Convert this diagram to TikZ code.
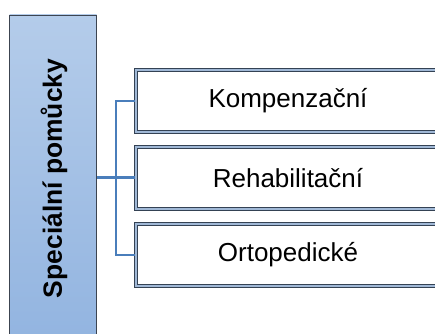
\documentclass[tikz,border=0pt]{standalone}
\usepackage{fontspec}
\setmainfont{Liberation Sans}
\begin{document}
\begin{tikzpicture}[x=0.75pt,y=-0.75pt,
  mainbox/.style={draw={rgb,255:red,60;green,68;blue,80}, line width=0.7pt,
    top color={rgb,255:red,180;green,204;blue,234},
    bottom color={rgb,255:red,146;green,180;blue,224},
    shading angle=0},
  itembox/.style={draw={rgb,255:red,52;green,66;blue,84}, line width=0.75pt,
    double={rgb,255:red,160;green,184;blue,214}, double distance=0.9pt,
    fill=white},
  link/.style={draw={rgb,255:red,74;green,126;blue,187}, line width=1.6pt},
  itemtext/.style={font=\fontsize{19.5pt}{23pt}\selectfont}
]
\useasboundingbox (0,0) rectangle (435,334);
\begin{scope}
\clip (0,0) rectangle (435,334);
% category column on the left
\path[mainbox] (9.5,15) rectangle (96.5,345);
\node[font=\bfseries\fontsize{19.8pt}{23pt}\selectfont, rotate=90] (title) at (54,178.5) {Speciální pomůcky};
\coordinate (root) at (96.5,177.5);
% three item boxes
\path[itembox] (136,70) rectangle (450,132) node[midway] (b1) {};
\path[itembox] (136,147) rectangle (450,209) node[midway] (b2) {};
\path[itembox] (136,224) rectangle (450,286) node[midway] (b3) {};
\coordinate (b1w) at (135,101);
\coordinate (b2w) at (135,177.5);
\coordinate (b3w) at (135,255);
\coordinate (trunk) at (116,0);
% connectors
\draw[link] (root) -- (b2w);
\draw[link] (b1w) -- (b1w -| trunk) -- (b3w -| trunk) -- (b3w);
% labels
\node[itemtext] (t1) at (288,101) {Kompenzační};
\node[itemtext] (t2) at (288,178) {Rehabilitační};
\node[itemtext] (t3) at (288,255) {Ortopedické};
\end{scope}
\end{tikzpicture}
\end{document}
